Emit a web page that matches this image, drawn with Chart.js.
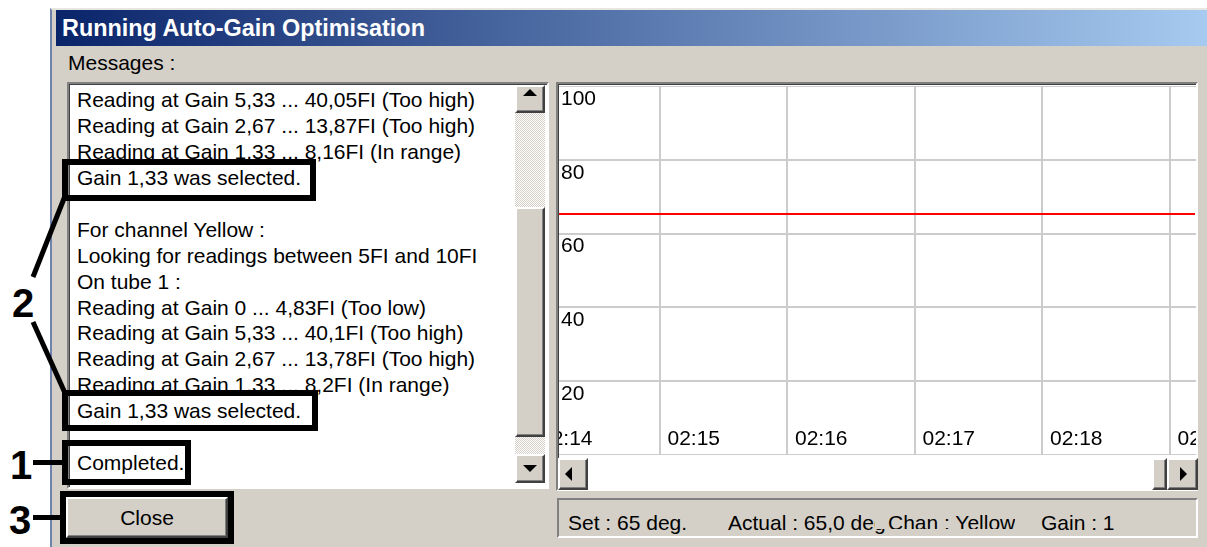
<!DOCTYPE html>
<html>
<head>
<meta charset="utf-8">
<script src="https://cdn.jsdelivr.net/npm/chart.js@4.4.0/dist/chart.umd.min.js"></script>
<style>
  body { margin:0; width:1207px; height:547px; background:#fff; overflow:hidden; position:relative;
         font-family:"Liberation Sans", Arial, sans-serif; font-size:21px; color:#000; }
  div, span { position:absolute; box-sizing:border-box; }
  #win { left:50px; top:8px; width:1160px; height:545px; background:#d4d0c8;
         border-left:2px solid #6f83ad; border-top:2px solid #e8e6e1; }
  #title { left:56px; top:10px; width:1151px; height:36px; color:#fff; font-weight:bold; font-size:23.4px;
           line-height:36px; padding-left:6px; background:linear-gradient(to right,#0a246a,#a6caf0); }
  .sunken { border:2px solid; border-color:#808080 #fff #fff #808080; box-shadow:inset 1px 1px 0 #404040; }
  .raised { background:#d4d0c8; border:2px solid; border-color:#fff #404040 #404040 #fff;
            box-shadow:inset -1px -1px 0 #808080; }
  .track { background-color:#ece9e3;
           background-image:repeating-conic-gradient(#fff 0 25%, #d4d0c8 0 50%); background-size:2px 2px; }
  .tri { width:0; height:0; border:7px solid transparent; }
  .lines { line-height:25.93px; white-space:pre; }
  .box { border:6px solid #000; }
  .num { font-weight:bold; font-size:40px; line-height:40px; }
  .bar { background:#000; }
</style>
</head>
<body>
<div id="win"></div>
<div id="title">Running Auto-Gain Optimisation</div>
<span style="left:68px; top:50px; line-height:25px;">Messages :</span>

<!-- message list -->
<div class="sunken" style="left:67px; top:82px; width:482px; height:407px; background:#fff; overflow:hidden;"></div>
<div id="msgs" class="lines" style="left:77px; top:87px; width:434px; height:398px; overflow:hidden;"></div>

<!-- vertical scrollbar -->
<div class="track" style="left:515px; top:85px; width:30px; height:398px;"></div>
<div class="raised" style="left:515px; top:85px; width:30px; height:28px;"></div>
<div class="tri" style="left:523px; top:89px; border-bottom-color:#000; border-top-width:0;"></div>
<div class="raised" style="left:515px; top:207px; width:30px; height:230px;"></div>
<div class="raised" style="left:515px; top:454px; width:30px; height:29px;"></div>
<div class="tri" style="left:523px; top:465px; border-top-color:#000; border-bottom-width:0;"></div>

<!-- chart panel -->
<div class="sunken" style="left:556px; top:82px; width:642px; height:409px; background:#fff;"></div>
<div style="left:559px; top:86px; width:637px; height:369px; overflow:hidden; background:#fff;">
  <canvas id="chart" width="664" height="369" style="position:absolute; left:-27px; top:0;"></canvas>
</div>

<!-- horizontal scrollbar -->
<div style="left:558px; top:458px; width:639px; height:32px; background:#fff;"></div>
<div class="raised" style="left:558px; top:458px; width:30px; height:32px;"></div>
<div class="tri" style="left:565px; top:467px; border-right-color:#000; border-left-width:0;"></div>
<div class="raised" style="left:1152px; top:458px; width:15px; height:32px;"></div>
<div class="raised" style="left:1167px; top:458px; width:31px; height:32px;"></div>
<div class="tri" style="left:1180px; top:467px; border-left-color:#000; border-right-width:0;"></div>

<!-- status bar -->
<div style="left:557px; top:498px; width:641px; height:40px; border:2px solid; border-color:#808080 #fff #fff #808080;"></div>
<span style="left:568px; top:510px; line-height:25px;">Set : 65 deg.</span>
<span style="left:728px; top:510px; line-height:25px;">Actual : 65,0 deg</span>
<span style="left:875px; top:510px; line-height:25px; height:19px; overflow:hidden; background:#d4d0c8; padding-left:13px;">Chan : Yellow</span>
<span style="left:1041px; top:510px; line-height:25px;">Gain : 1</span>

<!-- close button -->
<div class="raised" style="left:66px; top:497px; width:162px; height:41px; text-align:center; line-height:37px;">Close</div>

<!-- annotations -->
<div class="box" style="left:62px; top:159px; width:254px; height:42px;"></div>
<div class="box" style="left:62px; top:390px; width:256px; height:41px;"></div>
<div class="box" style="left:62px; top:440px; width:129px; height:45px;"></div>
<div class="box" style="left:60px; top:491px; width:174px; height:53px;"></div>
<svg style="position:absolute; left:0; top:0;" width="120" height="547">
  <line x1="33" y1="277" x2="65" y2="196" stroke="#000" stroke-width="5"/>
  <line x1="33" y1="322" x2="65" y2="393" stroke="#000" stroke-width="5"/>
</svg>
<span class="num" style="left:12px; top:283px;">2</span>
<span class="num" style="left:10px; top:445px;">1</span>
<div class="bar" style="left:33px; top:460px; width:30px; height:5px;"></div>
<span class="num" style="left:9px; top:500px;">3</span>
<div class="bar" style="left:33px; top:515px; width:28px; height:5px;"></div>

<script>
// isi pesan di listbox
const messages = [
  "Reading at Gain 5,33 ... 40,05FI (Too high)",
  "Reading at Gain 2,67 ... 13,87FI (Too high)",
  "Reading at Gain 1,33 ... 8,16FI (In range)",
  "Gain 1,33 was selected.",
  "",
  "For channel Yellow :",
  "Looking for readings between 5FI and 10FI",
  "On tube 1 :",
  "Reading at Gain 0 ... 4,83FI (Too low)",
  "Reading at Gain 5,33 ... 40,1FI (Too high)",
  "Reading at Gain 2,67 ... 13,78FI (Too high)",
  "Reading at Gain 1,33 ... 8,2FI (In range)",
  "Gain 1,33 was selected.",
  "",
  "Completed."
];
document.getElementById("msgs").textContent = messages.join("\n");

// data grafik suhu
const minutes = [14, 15, 16, 17, 18, 19, 19.2];
const tempValues = [65.3, 65.3, 65.3, 65.3, 65.3, 65.3, 65.3];
const xTickMinutes = [14, 15, 16, 17, 18, 19];
const xTickLabels = ["02:14", "02:15", "02:16", "02:17", "02:18", "02:19"];
const yTickValues = [20, 40, 60, 80, 100];
const yTickLabels = ["20", "40", "60", "80", "100"];

const uiFont = { family: "'Liberation Sans', Arial, sans-serif", size: 21 };

// axis tanpa ruang sendiri: label digambar di dalam area plot
function noSpace(s) {
  if (s.isHorizontal()) s.height = 0; else s.width = 0;
  s.paddingTop = s.paddingBottom = s.paddingLeft = s.paddingRight = 0;
}

const canvas = document.getElementById("chart");

if (canvas) {
  const ctx = canvas.getContext("2d");
  const chart = new Chart(ctx, {
    type: "line",
    data: {
      datasets: [{
        data: minutes.map((m, i) => ({ x: m, y: tempValues[i] })),
        borderColor: "#ff0000",
        borderWidth: 2,
        pointRadius: 0,
        tension: 0
      }]
    },
    options: {
      responsive: false,
      animation: false,
      devicePixelRatio: 1,
      layout: { padding: 0 },
      plugins: { legend: { display: false }, tooltip: { enabled: false } },
      scales: {
        x: {
          type: "linear",
          min: 14,
          max: 14 + 664 / 127.5,
          afterFit: noSpace,
          border: { display: false },
          grid: { color: "#cccccc", lineWidth: 2, drawTicks: false },
          ticks: {
            stepSize: 1,
            includeBounds: false,
            autoSkip: false,
            maxRotation: 0,
            mirror: true,
            padding: 3,
            align: "start",
            labelOffset: 8,
            color: "#000",
            font: uiFont,
            callback: (v) => {
              const i = xTickMinutes.indexOf(v);
              return i >= 0 ? xTickLabels[i] : "";
            }
          }
        },
        y: {
          min: 0,
          max: 100,
          afterFit: noSpace,
          border: { display: false },
          grid: { color: "#cccccc", lineWidth: 2, drawTicks: false },
          ticks: {
            stepSize: 20,
            mirror: true,
            padding: 29,
            labelOffset: 13,
            color: "#000",
            font: uiFont,
            callback: (v) => {
              const i = yTickValues.indexOf(v);
              return i >= 0 ? yTickLabels[i] : "";
            }
          }
        }
      }
    }
  });
}
</script>
</body>
</html>
